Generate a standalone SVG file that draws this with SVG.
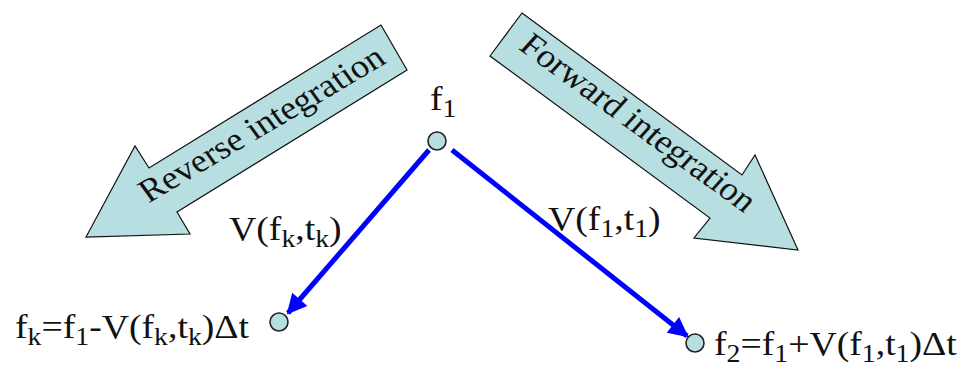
<svg xmlns="http://www.w3.org/2000/svg" width="965" height="374" viewBox="0 0 965 374">
<defs>
<style>
.big{fill:#b7dfe1;stroke:#111;stroke-width:1.2;stroke-linejoin:miter}
.lbl{font-family:'Liberation Serif','Times New Roman',serif;font-size:34px;fill:#111}
.sub{font-size:25px}
.arrtxt{font-family:'Liberation Serif','Times New Roman',serif;font-size:33px;fill:#111}
.pt{fill:#b7dfe1;stroke:#222;stroke-width:1.6}
.vec{stroke:#0000ff;stroke-width:5;fill:none}
</style>
<marker id="ah" viewBox="0 0 10 10" refX="9" refY="5" markerWidth="4.6" markerHeight="4" orient="auto" markerUnits="strokeWidth">
<path d="M0,0 L10,5 L0,10 Z" fill="#0000ff"/>
</marker>
</defs>
<rect width="965" height="374" fill="#fff"/>
<g id="reverse-arrow">
<polygon class="big" points="381,25 407,70 177,212 190,234 86,237 135,146 149,168"/>
<text class="arrtxt" transform="translate(268,133) scale(1.11,1) rotate(-33.2)" text-anchor="middle">Reverse integration</text>
</g>
<g id="forward-arrow">
<polygon class="big" points="522,13 742,175 755,155 798,250 694,238 710,218 490,56"/>
<text class="arrtxt" transform="translate(631,131) scale(1.11,1) rotate(38.9)" text-anchor="middle">Forward integration</text>
</g>
<g id="connectors">
<line class="vec" x1="429" y1="150" x2="288" y2="313" marker-end="url(#ah)"/>
<line class="vec" x1="452" y1="150" x2="687" y2="336" marker-end="url(#ah)"/>
</g>
<g id="node-f1">
<circle class="pt" cx="437" cy="141" r="9"/>
<text class="lbl" transform="translate(430,110) scale(1.11,1)">f<tspan class="sub" dy="7">1</tspan></text>
</g>
<g id="node-fk">
<circle class="pt" cx="279" cy="322" r="9"/>
<text class="lbl" transform="translate(15,338) scale(1.11,1)">f<tspan class="sub" dy="7">k</tspan><tspan dy="-7">=f</tspan><tspan class="sub" dy="7">1</tspan><tspan dy="-7">-V(f</tspan><tspan class="sub" dy="7">k</tspan><tspan dy="-7">,t</tspan><tspan class="sub" dy="7">k</tspan><tspan dy="-7">)Δt</tspan></text>
</g>
<g id="node-f2">
<circle class="pt" cx="695" cy="343" r="9"/>
<text class="lbl" transform="translate(714,355) scale(1.11,1)">f<tspan class="sub" dy="7">2</tspan><tspan dy="-7">=f</tspan><tspan class="sub" dy="7">1</tspan><tspan dy="-7">+V(f</tspan><tspan class="sub" dy="7">1</tspan><tspan dy="-7">,t</tspan><tspan class="sub" dy="7">1</tspan><tspan dy="-7">)Δt</tspan></text>
</g>
<g id="label-vk">
<text class="lbl" transform="translate(229,240) scale(1.11,1)">V(f<tspan class="sub" dy="7">k</tspan><tspan dy="-7">,t</tspan><tspan class="sub" dy="7">k</tspan><tspan dy="-7">)</tspan></text>
</g>
<g id="label-v1">
<text class="lbl" transform="translate(548,230) scale(1.11,1)">V(f<tspan class="sub" dy="7">1</tspan><tspan dy="-7">,t</tspan><tspan class="sub" dy="7">1</tspan><tspan dy="-7">)</tspan></text>
</g>
</svg>
